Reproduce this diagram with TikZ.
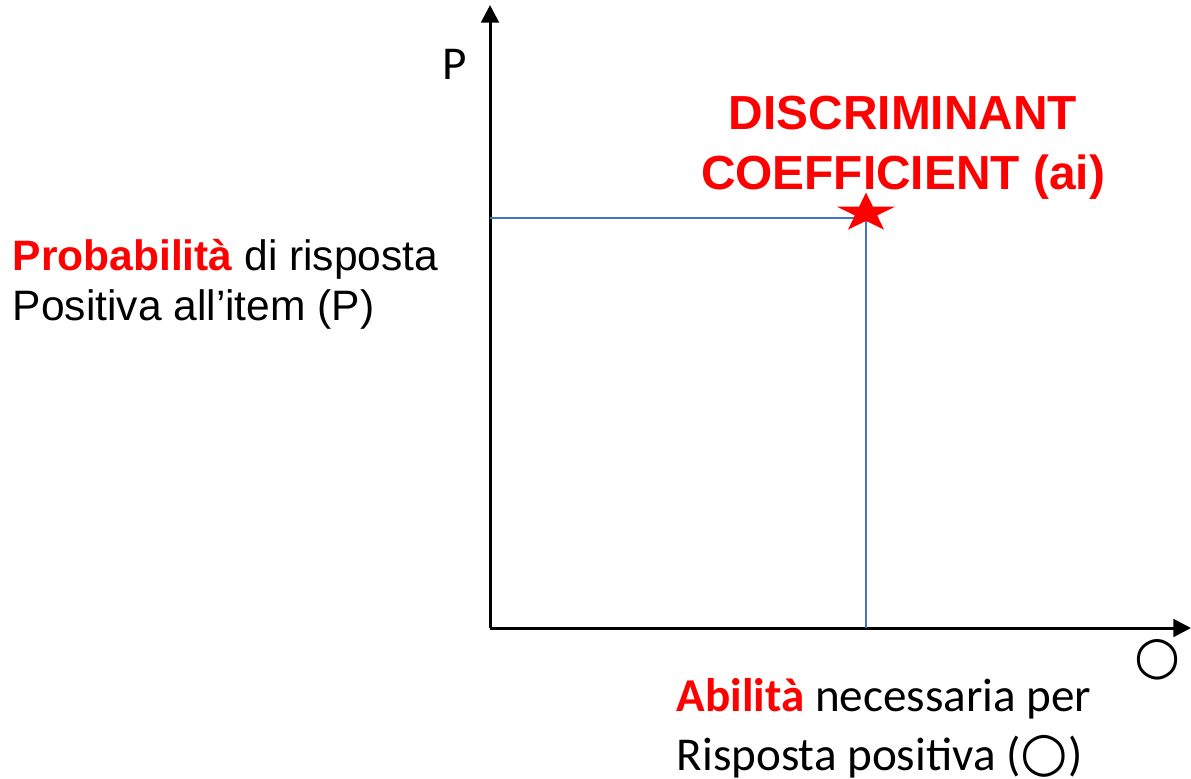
\documentclass[tikz,border=0pt]{standalone}
\usepackage{fontspec}
\setmainfont{Liberation Sans}
\newfontfamily\calibri{Carlito}
\newfontfamily\dejavu{DejaVu Sans}
\usepackage{xcolor}
\definecolor{guideblue}{RGB}{68,114,196}
\definecolor{labelred}{RGB}{255,0,0}
\usetikzlibrary{shapes.geometric,arrows.meta,positioning}

\newcommand{\thetaglyph}[1]{{\dejavu\fontsize{#1}{#1}\selectfont ○}}

\begin{document}
\begin{tikzpicture}[
    x=0.01cm, y=-0.01cm,
    axis/.style={draw=black, line width=0.85pt, -{Triangle[length=5pt,width=5pt]}},
    guide/.style={draw=guideblue, line width=0.45pt},
    starmark/.style={star, star points=5, star point ratio=2.6, fill=labelred, draw=none, inner sep=0pt, minimum size=0.41cm},
    arialtext/.style={inner sep=0pt, align=left, font=\fontsize{12.1}{14.2}\selectfont},
    boldtitle/.style={inner sep=0pt, align=center, text=labelred, font=\fontsize{13.6}{16.8}\bfseries\selectfont},
    calibritext/.style={inner sep=0pt, align=left, font=\calibri\fontsize{13.4}{16.5}\selectfont}
]
\useasboundingbox (0,0) rectangle (1191,778);

% axes
\coordinate (origin) at (490,628);
\coordinate (ytip) at (490,5);
\coordinate (xtip) at (1191,628);
\draw[axis] (origin) -- (ytip);
\draw[axis] (origin) -- (xtip);

% guide lines to the point
\coordinate (ai) at (866,218);
\draw[guide] (origin |- ai) -- (ai) -- (ai |- origin);
\begin{scope}[shift={(866,213)}, xscale=1.49]
  \node[starmark, transform shape] (aistar) at (0,0) {};
\end{scope}

% axis names
\node[calibritext, anchor=center] (pname) at (455,64) {P};
\node[calibritext, anchor=center] (thetaname) at (1157,660) {\thetaglyph{15}};

% labels (base = last line)
\node[boldtitle, anchor=base] (disc) at (903,189) {DISCRIMINANT\\COEFFICIENT (ai)};
\node[arialtext, anchor=base west] (ylabel) at (12,320)
    {{\bfseries\color{labelred}Probabilità} di risposta\\Positiva all’item (P)};
\node[calibritext, anchor=base west] (xlabel) at (676,770)
    {{\bfseries\color{labelred}Abilità} necessaria per\\Risposta positiva (\thetaglyph{15.5})};

\end{tikzpicture}
\end{document}
